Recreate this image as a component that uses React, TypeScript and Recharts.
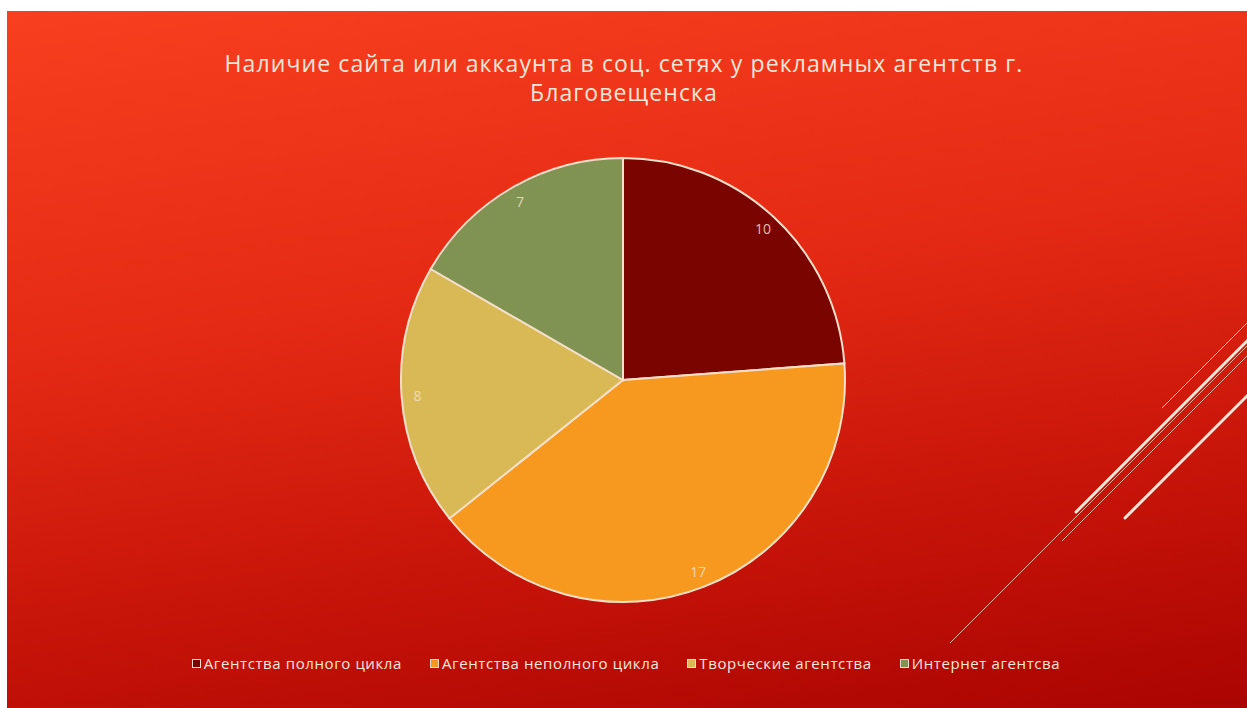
import React from 'react';
import { PieChart, Pie, Cell, Legend } from 'recharts';

const categories = ['Агентства полного цикла', 'Агентства неполного цикла', 'Творческие агентства', 'Интернет агентсва'];
const counts = [10, 17, 8, 7];
const COLORS = ['#7a0500', '#f7991f', '#d8b955', '#819352'];

const TITLE_1 = 'Наличие сайта или аккаунта в соц. сетях у рекламных агентств г.';
const TITLE_2 = 'Благовещенска';

const FONT = '"Century Gothic", "Open Sans", "DejaVu Sans", sans-serif';

const data = categories.map((name, i) => ({ name, value: counts[i] }));

const W = 1240;
const H = 697;
const CX = 616;
const CY = 369;
const R = 222;

const RADIAN = Math.PI / 180;

const renderLabel = ({ cx, cy, midAngle, value }: any) => {
  const r = 206;
  const x = cx + r * Math.cos(-midAngle * RADIAN);
  const y = cy + r * Math.sin(-midAngle * RADIAN);
  return (
    <text x={x} y={y} fill="#f6e2c8" fillOpacity={0.85} fontSize={14} fontFamily={FONT}
      textAnchor="middle" dominantBaseline="central">
      {value}
    </text>
  );
};

const LegendContent = () => (
  <div style={{ display: 'flex', justifyContent: 'center', gap: 28, fontFamily: FONT, fontSize: 15,
    letterSpacing: 0.6, color: '#f8e8dc' }}>
    {categories.map((c, i) => (
      <div key={c} style={{ display: 'flex', alignItems: 'center' }}>
        <span style={{ width: 7, height: 7, background: COLORS[i], border: '1.5px solid #f3dccb', marginRight: 3, display: 'inline-block' }} />
        <span>{c}</span>
      </div>
    ))}
  </div>
);

export default function App() {
  return (
    <div style={{ position: 'fixed', left: 7, top: 11, width: W, height: H, overflow: 'hidden',
      background: 'linear-gradient(172deg, #f83f1f 0%, #e42a14 40%, #c41208 75%, #aa0402 100%)' }}>
      <svg width={W} height={H} style={{ position: 'absolute', left: 0, top: 0 }}>
        <line x1={1069} y1={501} x2={1250} y2={320} stroke="#fbe9dc" strokeWidth={3} strokeLinecap="round" />
        <line x1={1118} y1={507} x2={1250} y2={375} stroke="#fbe9dc" strokeWidth={3} strokeLinecap="round" />
        <line x1={943} y1={632} x2={1250} y2={325} stroke="#f6b9a4" strokeWidth={1} />
        <line x1={1055} y1={530} x2={1250} y2={335} stroke="#f6b9a4" strokeWidth={1} />
        <line x1={1155} y1={397} x2={1250} y2={302} stroke="#f6b9a4" strokeWidth={1} />
      </svg>
      <div style={{ position: 'absolute', left: 0, width: W - 6, top: 38, textAlign: 'center', fontFamily: FONT,
        fontSize: 23, letterSpacing: 1.1, lineHeight: '29px', color: '#f8e6d8' }}>
        {TITLE_1}<br />{TITLE_2}
      </div>
      <div style={{ position: 'absolute', left: 0, top: 0 }}>
        <PieChart width={W} height={H} margin={{ top: 0, right: 0, bottom: 0, left: 0 }}>
          <Pie data={data} dataKey="value" nameKey="name" cx={CX} cy={CY} outerRadius={R}
            startAngle={90} endAngle={-270} stroke="#f4dfca" strokeWidth={2}
            label={renderLabel} labelLine={false} isAnimationActive={false}>
            {data.map((d, i) => <Cell key={d.name} fill={COLORS[i]} />)}
          </Pie>
          <Legend content={<LegendContent />} verticalAlign="bottom" wrapperStyle={{ bottom: 35, left: 0, width: W - 2 }} />
        </PieChart>
      </div>
    </div>
  );
}
